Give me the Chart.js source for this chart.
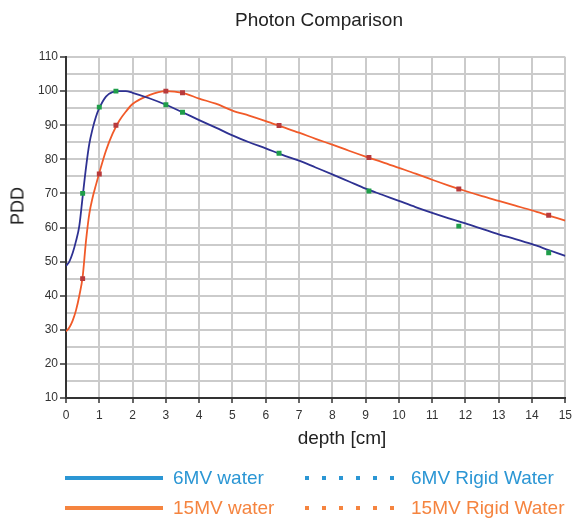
<!DOCTYPE html>
<html>
<head>
<meta charset="utf-8">
<script src="https://cdn.jsdelivr.net/npm/chart.js@4/dist/chart.umd.min.js"></script>
<style>
  body { margin: 0; background: #fff; font-family: "Liberation Sans", Arial, sans-serif; }
  #wrap { position: relative; width: 577px; height: 521px; }
  .lbl { position: absolute; color: #222; white-space: nowrap; }
  #title { left: 319px; top: 20px; font-size: 19px; transform: translate(-50%, -50%); }
  #ytitle { left: 18px; top: 206px; font-size: 18px; transform: translate(-50%, -50%) rotate(-90deg); }
  #xtitle { left: 342px; top: 438px; font-size: 19px; transform: translate(-50%, -50%); }
  .leg { position: absolute; font-size: 19px; white-space: nowrap; transform: translateY(-50%); }
  .solid { position: absolute; width: 98px; height: 4px; transform: translateY(-50%); }
  .dots { position: absolute; width: 89px; height: 4px; transform: translateY(-50%); }
</style>
</head>
<body>
<div id="wrap">
  <canvas id="chart" width="577" height="521"></canvas>
  <div class="lbl" id="title">Photon Comparison</div>
  <div class="lbl" id="ytitle">PDD</div>
  <div class="lbl" id="xtitle">depth [cm]</div>
  <div id="legend"></div>
</div>
<script>
// measured water curves
const depth6 = [0, 0.1, 0.2, 0.3, 0.4, 0.5, 0.6, 0.7, 0.8, 0.9, 1.0, 1.2, 1.4, 1.6, 1.8, 2.0, 2.5, 3.0, 3.5, 4.0, 4.5, 5.0, 5.5, 6.0, 6.5, 7.0, 7.5, 8.0, 8.5, 9.0, 9.5, 10.0, 10.5, 11.0, 11.5, 12.0, 12.5, 13.0, 13.5, 14.0, 14.5, 15.0];
const pdd6 = [48.7, 50, 52.5, 56, 60.5, 69, 77.5, 84.5, 89, 92.5, 95, 98.4, 99.7, 100, 100, 99.5, 97.9, 96, 93.8, 91.5, 89.3, 87, 85, 83.2, 81.3, 79.6, 77.6, 75.6, 73.5, 71.4, 69.6, 67.8, 66, 64.3, 62.7, 61.2, 59.6, 58, 56.6, 55.1, 53.4, 51.7];
const depth15 = [0, 0.1, 0.2, 0.3, 0.4, 0.5, 0.6, 0.7, 0.8, 0.9, 1.0, 1.2, 1.4, 1.6, 1.8, 2.0, 2.5, 3.0, 3.5, 4.0, 4.5, 5.0, 5.5, 6.0, 6.5, 7.0, 7.5, 8.0, 8.5, 9.0, 9.5, 10.0, 10.5, 11.0, 11.5, 12.0, 12.5, 13.0, 13.5, 14.0, 14.5, 15.0];
const pdd15 = [29.5, 30.7, 32.7, 35.7, 40, 45.5, 56, 64, 68.8, 72.5, 76, 82.5, 87.5, 91.3, 94, 96.2, 98.8, 100, 99.5, 97.8, 96.3, 94.3, 92.8, 91.2, 89.5, 87.8, 86, 84.3, 82.5, 80.8, 79.2, 77.5, 75.8, 74, 72.3, 70.7, 69.2, 67.8, 66.4, 65, 63.5, 62];

// rigid water measurements
const rigidDepth = [0.5, 1.0, 1.5, 3.0, 3.5, 6.4, 9.1, 11.8, 14.5];
const rigid6 = [70, 95.3, 100, 96, 93.8, 81.8, 70.7, 60.4, 52.6];
const rigid15 = [45, 75.7, 90, 100, 99.5, 89.9, 80.5, 71.3, 63.6];

const legendItems = [
    {label: "6MV water", color: "#2b96d4", dotted: false, x: 65, y: 478},
    {label: "6MV Rigid Water", color: "#2b96d4", dotted: true, x: 305, y: 478},
    {label: "15MV water", color: "#f5843f", dotted: false, x: 65, y: 508},
    {label: "15MV Rigid Water", color: "#f5843f", dotted: true, x: 305, y: 508}
];

function pts(xs, ys) {
    return xs.map((x, i) => ({x: x, y: ys[i]}));
}

let legend = document.getElementById("legend");
legendItems.forEach(item => {
    let mark = document.createElement("div");
    mark.className = item.dotted ? "dots" : "solid";
    mark.style.left = item.x + "px";
    mark.style.top = item.y + "px";
    if (item.dotted)
        mark.style.background = "repeating-linear-gradient(to right, " + item.color + " 0 4px, transparent 4px 17px)";
    else
        mark.style.background = item.color;
    legend.appendChild(mark);

    let txt = document.createElement("div");
    txt.className = "leg";
    txt.textContent = item.label;
    txt.style.color = item.color;
    txt.style.left = (item.x + (item.dotted ? 106 : 108)) + "px";
    txt.style.top = item.y + "px";
    legend.appendChild(txt);
});

const font = "'Liberation Sans', Arial, sans-serif";
const gridGrey = "#cbcbcb";

new Chart(document.getElementById("chart"), {
    type: "scatter",
    data: {
        datasets: [
            {
                label: "6MV water", data: pts(depth6, pdd6), showLine: true,
                borderColor: "#2e3192", borderWidth: 1.8, pointRadius: 0,
                cubicInterpolationMode: "monotone", order: 2
            },
            {
                label: "15MV water", data: pts(depth15, pdd15), showLine: true,
                borderColor: "#f15a29", borderWidth: 1.8, pointRadius: 0,
                cubicInterpolationMode: "monotone", order: 2
            },
            {
                label: "6MV Rigid Water", data: pts(rigidDepth, rigid6), showLine: false,
                pointStyle: "rect", pointRadius: 3.5, borderWidth: 0,
                backgroundColor: "#1f9e4a", order: 1
            },
            {
                label: "15MV Rigid Water", data: pts(rigidDepth, rigid15), showLine: false,
                pointStyle: "rect", pointRadius: 3.5, borderWidth: 0,
                backgroundColor: "#b83a3c", order: 1
            }
        ]
    },
    options: {
        responsive: false,
        animation: false,
        layout: {padding: {left: 0, right: 10, top: 57, bottom: 93}},
        plugins: {
            legend: {display: false},
            tooltip: {enabled: false}
        },
        scales: {
            x: {
                type: "linear", min: 0, max: 15,
                afterFit: scale => { scale.height = 30; },
                ticks: {stepSize: 1, color: "#333", font: {family: font, size: 12}, padding: 5, maxRotation: 0},
                grid: {color: gridGrey, lineWidth: 2, tickLength: 5, tickColor: "#333", tickWidth: 1.5},
                border: {color: "#333", width: 2}
            },
            y: {
                type: "linear", min: 10, max: 110,
                afterFit: scale => { scale.width = 66; },
                ticks: {
                    stepSize: 5, autoSkip: false, color: "#333", padding: 2,
                    font: {family: font, size: 12},
                    callback: v => (v % 10 === 0 ? v : "")
                },
                grid: {
                    color: gridGrey, lineWidth: 2, tickLength: 6, tickWidth: 1.5,
                    tickColor: ctx => (ctx.tick && ctx.tick.value % 10 === 0 ? "#333" : "rgba(0,0,0,0)")
                },
                border: {color: "#333", width: 2}
            }
        }
    }
});
</script>
</body>
</html>
